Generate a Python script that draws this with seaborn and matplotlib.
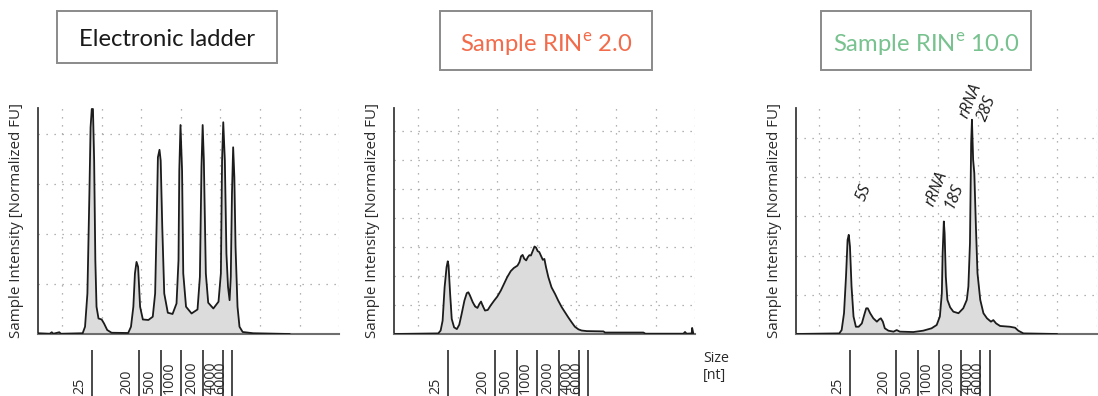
import matplotlib
matplotlib.use("Agg")
import matplotlib.pyplot as plt
import seaborn as sns
import numpy as np
import pandas as pd
from matplotlib.patches import Rectangle
from matplotlib.transforms import offset_copy

# ---------------------------------------------------------------- data
# migration position (x) and fluorescence (y) for each electropherogram
ladder_x = [14.0, 16.9, 17.4, 17.8, 19.3, 19.7, 25.2, 25.8, 26.4, 26.9, 27.2, 27.5, 27.8, 28.1,
            28.4, 28.7, 29.2, 30.0, 30.6, 31.4, 32.5, 36.7, 37.4, 38.0, 38.4, 38.8, 39.2, 39.7,
            40.4, 41.8, 42.9, 43.5, 43.9, 44.2, 44.6, 44.9, 45.3, 45.8, 46.7, 47.9, 48.9, 49.4,
            49.6, 49.9, 50.3, 50.6, 51.3, 52.7, 54.2, 54.8, 55.2, 55.5, 55.8, 56.3, 56.9, 58.2,
            59.5, 60.1, 60.4, 60.7, 61.1, 61.5, 61.9, 62.3, 62.6, 62.9, 63.2, 63.5, 63.8, 64.3,
            64.8, 65.6, 68.3, 77.5]
ladder_y = [0.3, 0.1, 0.7, 0.1, 0.7, 0.1, 0.3, 2.9, 16.2, 56.0, 82.6, 89.9, 89.9, 69.3,
            29.5, 10.9, 6.2, 5.8, 4.2, 1.6, 0.5, 0.4, 2.9, 10.9, 24.2, 28.8, 26.8, 10.9,
            5.8, 5.6, 6.9, 16.2, 45.4, 70.6, 73.6, 69.3, 42.8, 16.2, 8.5, 8.0, 12.2, 29.5,
            65.3, 83.5, 65.3, 24.2, 10.9, 8.2, 9.8, 22.8, 66.7, 83.5, 69.3, 24.2, 12.5, 10.2,
            12.9, 24.2, 69.3, 84.6, 69.3, 32.1, 18.9, 13.5, 22.8, 56.0, 74.6, 62.7, 34.8, 10.9,
            2.9, 0.8, 0.3, 0.0]

rin2_x = [14.0, 25.1, 25.7, 26.2, 26.7, 27.2, 27.5, 27.7, 28.1, 28.5, 29.1, 29.8, 30.4, 31.0,
          31.7, 32.3, 32.7, 33.1, 33.8, 34.4, 35.0, 35.5, 35.9, 36.3, 36.9, 37.6, 38.3, 39.2,
          40.0, 40.9, 41.7, 42.5, 43.4, 44.2, 45.1, 45.6, 46.0, 46.4, 46.8, 47.3, 47.7, 48.1,
          48.5, 49.0, 49.4, 49.8, 50.2, 50.6, 51.0, 51.5, 51.9, 52.3, 52.9, 53.7, 54.6, 55.4,
          56.3, 57.1, 57.9, 58.8, 59.6, 60.5, 61.3, 62.6, 66.8, 67.2, 76.9, 77.4, 87.0, 87.4,
          87.8, 89.1, 89.2, 89.5]
rin2_y = [0.0, 0.2, 1.2, 4.6, 16.1, 23.1, 25.1, 23.6, 13.8, 5.2, 2.3, 1.7, 3.2, 6.9,
          11.5, 14.1, 14.4, 13.3, 11.0, 9.5, 9.0, 10.4, 11.2, 9.8, 8.1, 8.3, 9.8, 11.5,
          12.9, 15.0, 17.3, 19.6, 21.7, 22.8, 23.6, 24.8, 26.8, 27.3, 26.0, 25.4, 26.5, 27.2,
          27.1, 28.8, 30.2, 29.8, 28.6, 28.3, 27.1, 25.6, 25.9, 23.1, 19.6, 16.1, 13.8, 11.5,
          9.2, 7.5, 5.8, 4.0, 2.5, 1.6, 1.2, 1.0, 0.9, 0.5, 0.5, 0.1, 0.1, 0.7,
          0.1, 0.2, 2.1, 0.2]

rin10_x = [14.0, 25.0, 25.6, 26.2, 26.7, 27.1, 27.4, 27.7, 28.1, 28.6, 29.2, 29.9, 30.7, 31.3,
           31.8, 32.2, 32.8, 33.6, 34.5, 35.1, 35.5, 36.0, 36.5, 37.4, 38.7, 39.5, 40.3, 43.7,
           46.2, 48.3, 49.6, 50.4, 50.9, 51.1, 51.4, 51.6, 51.9, 52.3, 53.0, 53.8, 55.1, 56.3,
           57.2, 57.6, 58.0, 58.3, 58.5, 58.8, 59.1, 59.5, 59.9, 60.6, 61.4, 62.3, 63.3, 63.9,
           64.6, 65.6, 68.1, 69.4, 70.2, 71.5, 80.0]
rin10_y = [0.0, 0.3, 2.0, 10.6, 29.3, 48.0, 50.6, 44.6, 24.2, 8.9, 3.7, 3.7, 5.4, 9.7,
           13.1, 13.1, 10.6, 8.0, 6.3, 7.5, 8.0, 6.3, 2.9, 1.7, 1.2, 2.0, 1.2, 1.0,
           1.7, 2.9, 4.6, 8.9, 20.8, 41.2, 57.4, 51.4, 29.3, 17.4, 13.6, 11.4, 10.6, 13.1,
           17.4, 24.2, 46.3, 97.4, 109.3, 88.9, 82.0, 54.8, 31.0, 17.4, 10.6, 8.0, 6.3, 7.1,
           5.4, 4.1, 3.7, 3.2, 1.7, 0.3, 0.0]

# ladder fragment sizes and their migration positions
size_labels = ["25", "200", "500", "1000", "2000", "4000", "6000"]
size_pos = [27.6, 39.3, 45.0, 50.1, 55.7, 60.6, 63.0]

# rRNA annotations for the intact sample
peak_labels = ["5S", "rRNA\n18S", "rRNA\n28S"]
peak_label_x = [31.1, 51.8, 60.2]
peak_label_y = [72.0, 72.5, 117.0]

panel_titles = ["Electronic ladder", "Sample RIN$^{\\mathregular{e}}$ 2.0",
                "Sample RIN$^{\\mathregular{e}}$ 10.0"]
title_colors = ["#1a1a1a", "#F26B4A", "#78C28F"]

# ---------------------------------------------------------------- style
sns.set_style("white")
plt.rcParams["font.family"] = ["Open Sans", "DejaVu Sans"]

W, H = 1098, 396
fig = plt.figure(figsize=(W / 100, H / 100), dpi=100)

panels = [
    dict(x=ladder_x, y=ladder_y, left=38.3, ymax=90.3, ygrid=[20, 40, 60, 80]),
    dict(x=rin2_x, y=rin2_y, left=394.3, ymax=78.0, ygrid=[10, 20, 30, 40, 50, 60, 70]),
    dict(x=rin10_x, y=rin10_y, left=795.7, ymax=115.3, ygrid=[20, 40, 60, 80, 100]),
]
ax_w, ax_h, ax_bottom = 301, 226, 334

grid_kw = dict(color="#9a9a9a", lw=0.9, dashes=(1.0, 5.4), zorder=0)
axes = []
for p in panels:
    ax = fig.add_axes([p["left"] / W, (H - ax_bottom) / H, ax_w / W, ax_h / H])
    df = pd.DataFrame({"pos": p["x"], "fu": p["y"]})
    ax.fill_between(df["pos"], df["fu"], 0, color="#dcdcdc", lw=0, zorder=1)
    sns.lineplot(data=df, x="pos", y="fu", ax=ax, color="#1c1c1c", lw=1.3, zorder=3)
    ax.set_xlim(14, 90)
    ax.set_ylim(0, p["ymax"])
    for gx in range(20, 91, 10):
        ax.axvline(gx, **grid_kw)
    for gy in p["ygrid"]:
        ax.axhline(gy, **grid_kw)
    ax.set_xticks([])
    ax.set_yticks([])
    ax.set_xlabel("")
    for s in ("top", "right"):
        ax.spines[s].set_visible(False)
    ax.spines["left"].set_color("#3c3c3c")
    ax.spines["left"].set_linewidth(1.3)
    ax.spines["bottom"].set_color("#6e6e6e")
    ax.spines["bottom"].set_linewidth(1.5)
    ax.set_ylabel("Sample Intensity [Normalized FU]", fontsize=10.9, color="#2a2a2a", va="center")
    ax.yaxis.set_label_coords(-21.3 / ax_w, 0.5)

    # size markers below the axis
    tr = ax.get_xaxis_transform()
    ax.vlines(size_pos, (ax_bottom - 350) / ax_h, (ax_bottom - 397) / ax_h,
              transform=tr, color="#3c3c3c", lw=1.3, clip_on=False)
    lab_tr = offset_copy(tr, fig=fig, x=-4.5, y=0, units="dots")
    for sx, sl in zip(size_pos, size_labels):
        ax.text(sx, (ax_bottom - 394) / ax_h, sl, transform=lab_tr, rotation=90,
                ha="right", va="bottom", fontsize=10.3, color="#2a2a2a")
    axes.append(ax)

# size axis caption
axes[1].text(703 / W, (H - 351) / H, "Size\n[nt]", transform=fig.transFigure,
             ha="left", va="top", fontsize=10.3, color="#2a2a2a", linespacing=1.15)

# rRNA peak names
for lx, ly, lt in zip(peak_label_x, peak_label_y, peak_labels):
    axes[2].text(lx, ly, lt, rotation=68, ha="center", va="center", fontsize=11.6,
                 fontstyle="italic", color="#1a1a1a", clip_on=False, multialignment="center")

# framed panel titles
boxes = [(57, 11, 220, 52), (440, 11, 212, 59), (821, 11, 210, 59)]
title_dy = [0, 3, 3]
for (bx, by, bw, bh), t, c, dy in zip(boxes, panel_titles, title_colors, title_dy):
    fig.add_artist(Rectangle((bx / W, (H - by - bh) / H), bw / W, bh / H,
                             transform=fig.transFigure, fill=False,
                             edgecolor="#8a8a8a", lw=1.4))
    fig.text((bx + bw / 2) / W, (H - by - bh / 2 - 2 - dy) / H, t, ha="center", va="center",
             fontsize=17.2, color=c, family=["Lato", "DejaVu Sans"])

fig.savefig("out.png", dpi=100)
